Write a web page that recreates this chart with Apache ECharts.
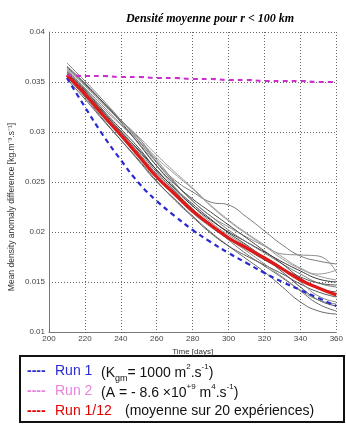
<!DOCTYPE html>
<html><head><meta charset="utf-8">
<script src="https://cdn.jsdelivr.net/npm/echarts@6/dist/echarts.min.js"></script>
<style>html,body{margin:0;padding:0;background:#fff}#c{width:346px;height:425px}</style>
</head><body><div id="c"></div>
<script>
var days = [210,220,230,240,250,260,270,280,290,300,310,320,330,340,350,360];
var xTicks = ['200','220','240','260','280','300','320','340','360'];
var yTicks = ['0.01','0.015','0.02','0.025','0.03','0.035','0.04'];

var run1 = [0.0354,0.0325,0.0297,0.0272,0.0249,0.0231,0.0216,0.0202,0.0190,0.0179,0.0169,0.0159,0.0150,0.0142,0.0134,0.0126];
var run2 = [0.0357,0.0356,0.0356,0.0355,0.0355,0.0354,0.0354,0.0353,0.0353,0.0352,0.0352,0.0351,0.0351,0.0351,0.0350,0.0350];
var runMean = [0.0357,0.0338,0.0317,0.0297,0.0276,0.0255,0.0238,0.0221,0.0207,0.0194,0.0184,0.0174,0.0163,0.0152,0.0144,0.0137];

var exp1 = [0.0366,0.0349,0.0330,0.0312,0.0294,0.0270,0.0252,0.0240,0.0230,0.0227,0.0215,0.0201,0.0187,0.0176,0.0171,0.0168];
var exp2 = [0.0362,0.0344,0.0326,0.0308,0.0291,0.0272,0.0250,0.0231,0.0216,0.0205,0.0195,0.0186,0.0178,0.0177,0.0176,0.0160];
var exp3 = [0.0355,0.0335,0.0313,0.0292,0.0271,0.0250,0.0233,0.0216,0.0200,0.0186,0.0173,0.0160,0.0145,0.0130,0.0121,0.0118];
var exp4 = [0.0360,0.0342,0.0322,0.0303,0.0284,0.0262,0.0244,0.0228,0.0213,0.0199,0.0187,0.0174,0.0160,0.0145,0.0132,0.0126];
var exp5 = [0.0364,0.0347,0.0329,0.0311,0.0293,0.0274,0.0258,0.0243,0.0226,0.0211,0.0198,0.0186,0.0173,0.0163,0.0156,0.0152];
var exp6 = [0.0353,0.0333,0.0312,0.0292,0.0272,0.0251,0.0232,0.0215,0.0199,0.0186,0.0176,0.0167,0.0158,0.0148,0.0140,0.0135];
var exp7 = [0.0361,0.0343,0.0324,0.0307,0.0289,0.0266,0.0245,0.0226,0.0210,0.0197,0.0186,0.0175,0.0164,0.0150,0.0136,0.0130];
var exp8 = [0.0357,0.0339,0.0320,0.0300,0.0282,0.0262,0.0243,0.0226,0.0212,0.0200,0.0190,0.0180,0.0170,0.0161,0.0153,0.0150];
var exp9 = [0.0369,0.0351,0.0332,0.0312,0.0291,0.0269,0.0249,0.0231,0.0216,0.0202,0.0190,0.0179,0.0168,0.0158,0.0149,0.0145];
var exp10 = [0.0358,0.0340,0.0320,0.0301,0.0281,0.0260,0.0241,0.0223,0.0208,0.0195,0.0183,0.0172,0.0163,0.0155,0.0149,0.0147];
var exp11 = [0.0363,0.0346,0.0328,0.0311,0.0295,0.0277,0.0260,0.0244,0.0227,0.0212,0.0199,0.0187,0.0175,0.0164,0.0158,0.0162];
var exp12 = [0.0359,0.0341,0.0321,0.0300,0.0279,0.0258,0.0240,0.0223,0.0207,0.0192,0.0178,0.0166,0.0154,0.0141,0.0128,0.0121];
var exp13 = [0.0365,0.0348,0.0330,0.0310,0.0288,0.0266,0.0248,0.0233,0.0220,0.0207,0.0194,0.0181,0.0168,0.0154,0.0144,0.0140];
var exp14 = [0.0356,0.0336,0.0315,0.0295,0.0275,0.0254,0.0236,0.0219,0.0205,0.0193,0.0181,0.0168,0.0155,0.0142,0.0132,0.0128];
var experiments = [exp1,exp2,exp3,exp4,exp5,exp6,exp7,exp8,exp9,exp10,exp11,exp12,exp13,exp14];
var grays = ['#777','#888','#666','#444','#999','#555','#888','#333','#777','#555','#999','#666','#444','#888'];

function pairs(v){ return v.map(function(y,i){ return [days[i], y]; }); }

var series = [];
experiments.forEach(function(e,i){
  series.push({type:'line', data:pairs(e), smooth:true, symbol:'none', silent:true,
    lineStyle:{color:grays[i], width:1}});
});
series.push({type:'line', data:pairs(run1), smooth:true, symbol:'none',
  lineStyle:{color:'#2a2ad2', width:2.2, type:[5,4]}});
series.push({type:'line', data:pairs(runMean), smooth:true, symbol:'none',
  lineStyle:{color:'#e01818', width:3.2}});
series.push({type:'line', data:pairs(run2), smooth:true, symbol:'none',
  lineStyle:{color:'#cc30cc', width:2.2, type:[5,4]}});

var chart = echarts.init(document.getElementById('c'));
var FS = 14;
function st(fill){ return {fontFamily:'Liberation Sans', fontSize:FS, lineHeight:18, verticalAlign:'bottom', fill:fill}; }
var rich = {
  t: st('#111'),
  sup: {fontFamily:'Liberation Sans', fontSize:8, lineHeight:18, verticalAlign:'top', fill:'#111', padding:[1,0,0,0]},
  sub: {fontFamily:'Liberation Sans', fontSize:9, lineHeight:18, verticalAlign:'bottom', fill:'#111', padding:[0,0,-3,0]}
};
function txt(x, y, s, fill, bold){ return {type:'text', x:x, y:y, style:{text:s, fill:fill, font:(bold?'bold ':'')+FS+'px "Liberation Sans"', textVerticalAlign:'middle'}}; }
chart.setOption({
  animation:false,
  title:{text:'Densité moyenne pour r < 100 km', left:205, top:8, textAlign:'center',
    textStyle:{fontFamily:'Liberation Serif', fontStyle:'italic', fontWeight:'bold', fontSize:12, color:'#000'}},
  grid:{left:49, top:32, right:4, bottom:93, containLabel:false},
  xAxis:{type:'value', min:200, max:360, interval:20,
    name:'Time [days]', nameLocation:'middle', nameGap:15,
    nameTextStyle:{fontFamily:'Liberation Sans', fontSize:8, color:'#333'},
    axisLine:{show:true, lineStyle:{color:'#777', width:1}},
    axisTick:{show:false},
    axisLabel:{fontFamily:'Liberation Sans', fontSize:8, color:'#444', margin:3,
      formatter:function(v){ return xTicks[Math.round((v-200)/20)]; }},
    splitLine:{show:true, lineStyle:{color:'#666', type:[1,2], width:1}}},
  yAxis:{type:'value', min:0.01, max:0.04, interval:0.005,
    axisLine:{show:true, lineStyle:{color:'#777', width:1}},
    axisTick:{show:false},
    axisLabel:{fontFamily:'Liberation Sans', fontSize:8, color:'#444', margin:4,
      formatter:function(v){ return yTicks[Math.round((v-0.01)/0.005)]; }},
    splitLine:{show:true, lineStyle:{color:'#666', type:[1,2], width:1}}},
  series:series,
  graphic:[
    {type:'text', x:12, y:207, rotation:Math.PI/2,
      style:{text:'Mean density anomaly difference [kg.m⁻³.s⁻¹]', fill:'#333',
        font:'8.5px "Liberation Sans"', textAlign:'center', textVerticalAlign:'middle'}},
    {type:'rect', shape:{x:20, y:356, width:324, height:66}, style:{fill:'#fff', stroke:'#111', lineWidth:2}},
    txt(27, 371, '----', '#2a2ad2', true),
    txt(55, 371, 'Run 1', '#2a2ad2'),
    {type:'text', x:101, y:362, style:{rich:rich,
      text:'{t|(K}{sub|gm}{t|= 1000 m}{sup|2}{t|.s}{sup|-1}{t|)}'}},
    txt(27, 391, '----', '#e884dc', true),
    txt(55, 391, 'Run 2', '#e884dc'),
    {type:'text', x:101, y:382, style:{rich:rich,
      text:'{t|(A = - 8.6 ×10}{sup|+9}{t| m}{sup|4}{t|.s}{sup|-1}{t|)}'}},
    txt(27, 411, '----', '#e00000', true),
    txt(55, 411, 'Run 1/12', '#e00000'),
    txt(125, 411, '(moyenne sur 20 expériences)', '#111')
  ]
});
</script></body></html>
